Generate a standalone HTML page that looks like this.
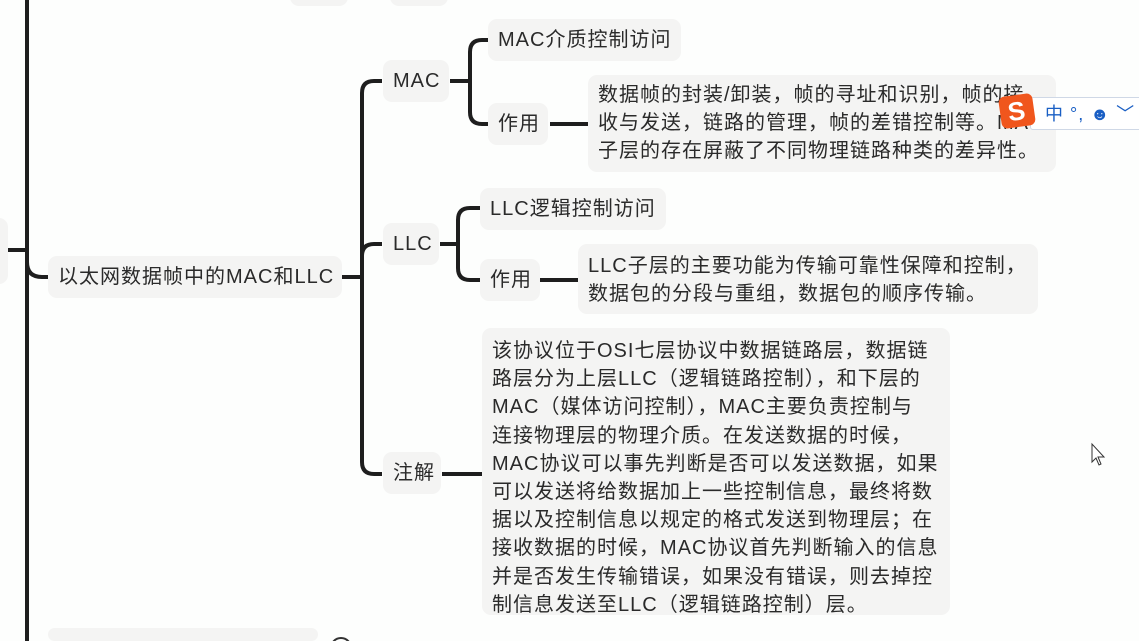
<!DOCTYPE html>
<html style="width:1139px;height:641px;overflow:hidden"><head><meta charset="utf-8"><style>
body{margin:0;width:1139px;height:641px;overflow:hidden;background:#fdfefd;font-family:"Liberation Sans","Noto Sans CJK SC",sans-serif;color:#2a2a2a;position:relative;letter-spacing:1px}
.n{position:absolute;background:#f4f4f3;border-radius:9px;font-size:20px;line-height:42px;padding:0 10px;white-space:nowrap;box-sizing:border-box}
.t{position:absolute;background:#f4f4f3;border-radius:9px;font-size:20px;line-height:28.2px;padding:8px 10px;box-sizing:border-box;white-space:nowrap}
svg{position:absolute;left:0;top:0}
</style></head><body>
<svg width="1139" height="641" fill="none" stroke="#1e1e1e" stroke-width="4" stroke-linecap="butt">
<path d="M27 0V641"/>
<path d="M6 250H27"/>
<path d="M27 262Q27 277 42 277H48"/>
<path d="M342 277H362"/>
<path d="M382 81H374Q362 81 362 93V462Q362 474 374 474H382"/>
<path d="M362 256Q362 244 374 244H382"/>
<path d="M450 81H470"/>
<path d="M488 40H482Q470 40 470 52V112Q470 124 482 124H488"/>
<path d="M550 124H590"/>
<path d="M440 244H458"/>
<path d="M480 208H470Q458 208 458 220V268Q458 280 470 280H480"/>
<path d="M540 280H580"/>
<path d="M442 474H482"/>
</svg>
<div class="n" style="left:-20px;top:218px;width:28px;height:66px"></div>
<div class="n" style="left:290px;top:-36px;width:58px;height:42px"></div>
<div class="n" style="left:390px;top:-36px;width:58px;height:42px"></div>
<div class="n" style="left:48px;top:256px;width:294px">以太网数据帧中的MAC和LLC</div>
<div class="n" style="left:383px;top:60px;width:66px">MAC</div>
<div class="n" style="left:488px;top:19px">MAC介质控制访问</div>
<div class="n" style="left:488px;top:103px;width:60px">作用</div>
<div class="t" style="left:588px;top:75px;width:468px;height:97px;padding-top:6px">数据帧的封装/卸装，帧的寻址和识别，帧的接<br>收与发送，链路的管理，帧的差错控制等。MAC<br>子层的存在屏蔽了不同物理链路种类的差异性。</div>
<div class="n" style="left:383px;top:223px;width:56px">LLC</div>
<div class="n" style="left:480px;top:188px">LLC逻辑控制访问</div>
<div class="n" style="left:480px;top:259px;width:60px">作用</div>
<div class="t" style="left:578px;top:244px;width:460px;height:70px;padding-top:8px">LLC子层的主要功能为传输可靠性保障和控制，<br>数据包的分段与重组，数据包的顺序传输。</div>
<div class="n" style="left:383px;top:452px;width:58px">注解</div>
<div class="t" style="left:482px;top:328px;width:468px;height:287px;padding-top:9px">该协议位于OSI七层协议中数据链路层，数据链<br>路层分为上层LLC（逻辑链路控制），和下层的<br>MAC（媒体访问控制），MAC主要负责控制与<br>连接物理层的物理介质。在发送数据的时候，<br>MAC协议可以事先判断是否可以发送数据，如果<br>可以发送将给数据加上一些控制信息，最终将数<br>据以及控制信息以规定的格式发送到物理层；在<br>接收数据的时候，MAC协议首先判断输入的信息<br>并是否发生传输错误，如果没有错误，则去掉控<br>制信息发送至LLC（逻辑链路控制）层。</div>
<div class="n" style="left:48px;top:628px;width:270px;height:13px"></div>
<svg width="1139" height="641"><circle cx="341" cy="648" r="10" fill="none" stroke="#333" stroke-width="2"/></svg>
<div style="position:absolute;left:1030px;top:97px;width:115px;height:33px;background:#fff;border:1px solid #cfd8e6;border-radius:3px;color:#1a5fc4;font-size:18px;line-height:33px;padding-left:14px;box-sizing:border-box">中 °, ☻ ﹀</div>
<div style="position:absolute;left:1000px;top:95px;width:34px;height:32px;background:#f0561d;border-radius:6px;transform:rotate(-8deg);color:#fff;font-weight:bold;font-size:26px;line-height:32px;text-align:center">S</div>
<svg width="1139" height="641"><path d="M1092 444L1092 462L1096 458L1099 465L1101 464L1098 457L1104 457Z" fill="#fff" stroke="#333" stroke-width="1"/></svg>
</body></html>
